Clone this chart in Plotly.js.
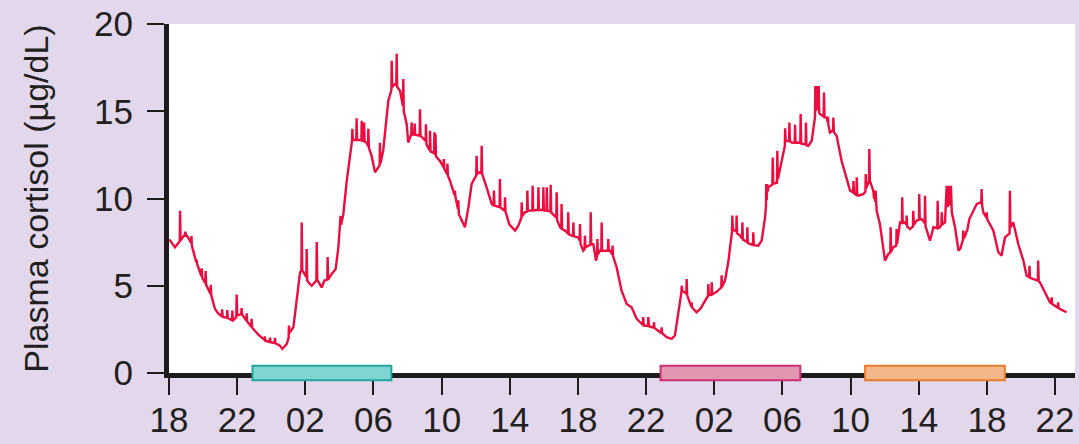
<!DOCTYPE html>
<html>
<head>
<meta charset="utf-8">
<script src="https://cdn.plot.ly/plotly-3.0.1.min.js"></script>
<style>
  html, body { margin: 0; padding: 0; background: #e3d7ec; }
  #chart { width: 1079px; height: 444px; }
</style>
</head>
<body>
<div id="chart"></div>
<script>
// Hours elapsed since 18:00 on day 1
const hours = [
  0.00,0.06,0.35,0.55,0.63,0.65,0.68,0.94,0.96,1.00,1.13,1.30,1.32,1.34,1.60,1.62,1.65,1.90,1.92,1.95,
  2.13,2.15,2.18,2.43,2.45,2.48,2.70,2.90,3.10,3.12,3.15,3.40,3.42,3.45,3.70,3.72,3.75,3.95,3.97,4.00,
  4.24,4.26,4.29,4.54,4.56,4.59,4.83,4.85,4.88,5.24,5.60,5.62,5.65,5.90,5.93,5.96,6.20,6.22,6.25,6.51,
  6.65,6.91,7.02,7.04,7.07,7.30,7.49,7.69,7.77,7.79,7.82,8.06,8.08,8.11,8.18,8.37,8.65,8.67,8.70,8.96,
  9.12,9.29,9.31,9.34,9.55,9.78,9.94,10.04,10.07,10.10,10.23,10.43,10.72,10.74,10.76,10.79,10.99,11.01,11.04,11.29,
  11.31,11.34,11.43,11.45,11.48,11.60,11.68,11.70,11.73,11.89,12.09,12.23,12.36,12.38,12.41,12.57,12.87,13.05,13.07,13.10,
  13.24,13.34,13.36,13.39,13.56,13.73,13.75,13.78,13.95,14.04,14.15,14.22,14.24,14.27,14.40,14.42,14.45,14.71,14.73,14.76,
  15.06,15.08,15.11,15.30,15.32,15.35,15.55,15.58,15.61,15.64,15.67,15.90,16.11,16.13,16.16,16.32,16.34,16.37,16.49,16.76,
  16.78,16.81,16.96,16.98,17.01,17.37,17.57,17.76,17.96,18.03,18.05,18.08,18.20,18.33,18.35,18.38,18.64,18.94,19.05,19.07,
  19.10,19.33,19.40,19.42,19.45,19.70,19.72,19.75,19.98,20.31,20.50,20.68,20.70,20.73,20.89,21.01,21.03,21.06,21.19,21.32,
  21.34,21.37,21.58,21.66,21.68,21.71,21.95,21.97,22.00,22.15,22.17,22.20,22.38,22.40,22.43,22.65,22.73,22.75,22.78,22.95,
  23.02,23.04,23.07,23.24,23.41,23.43,23.46,23.63,23.71,23.73,23.76,24.02,24.10,24.12,24.15,24.31,24.39,24.41,24.44,24.61,
  24.73,24.75,24.78,24.90,25.06,25.12,25.14,25.17,25.29,25.37,25.39,25.42,25.59,25.76,25.78,25.81,25.88,26.01,26.03,26.06,
  26.27,26.56,26.86,27.15,27.45,27.74,27.81,27.83,27.86,28.11,28.13,28.16,28.42,28.44,28.46,28.49,28.81,28.89,28.91,28.94,
  29.20,29.50,29.69,29.89,30.07,30.09,30.12,30.36,30.38,30.41,30.65,30.67,30.70,30.96,31.20,31.56,31.63,31.65,31.68,31.83,
  31.85,31.88,32.04,32.14,32.41,32.43,32.46,32.63,32.83,33.02,33.04,33.06,33.09,33.22,33.29,33.31,33.34,33.51,33.63,33.65,
  33.68,33.80,33.92,33.94,33.97,34.10,34.27,34.29,34.32,34.58,34.78,34.98,35.03,35.05,35.08,35.11,35.14,35.17,35.41,35.43,
  35.46,35.68,35.70,35.73,35.97,36.14,36.16,36.19,36.35,36.39,36.41,36.44,36.55,36.72,36.74,36.77,36.94,37.05,37.07,37.10,
  37.23,37.36,37.38,37.41,37.52,37.72,37.91,37.93,37.98,38.03,38.08,38.13,38.16,38.21,38.42,38.44,38.47,38.60,38.65,38.67,
  38.70,38.79,38.97,38.99,39.02,39.18,39.47,39.77,39.97,40.15,40.17,40.20,40.34,40.36,40.39,40.46,40.76,40.87,40.89,40.92,
  41.08,41.10,41.13,41.33,41.38,41.40,41.45,41.47,41.50,41.53,41.72,42.02,42.21,42.33,42.35,42.38,42.50,42.68,42.70,42.73,
  42.90,43.01,43.03,43.06,43.19,43.27,43.29,43.32,43.49,43.66,43.68,43.71,43.88,44.01,44.03,44.06,44.17,44.35,44.37,44.40,
  44.66,44.86,45.09,45.11,45.14,45.25,45.33,45.35,45.38,45.54,45.64,45.70,45.76,45.82,45.89,45.94,46.13,46.33,46.43,46.59,
  46.61,46.64,46.78,46.80,46.83,46.97,47.40,47.67,47.69,47.72,47.79,47.97,47.99,48.02,48.38,48.67,48.86,49.06,49.33,49.35,
  49.38,49.55,49.84,50.14,50.33,50.48,50.50,50.53,50.72,50.99,51.01,51.04,51.11,51.41,51.70,51.78,51.80,51.83,52.10,52.16,
  52.18,52.21,52.39,52.68
];

// Plasma cortisol (µg/dL)
const cortisol = [
  7.60,7.60,7.20,7.50,7.55,9.30,7.60,7.95,8.10,7.90,7.75,7.45,7.85,7.30,6.35,6.50,6.25,5.55,6.00,5.45,
  5.15,5.85,5.05,4.55,5.05,4.45,3.67,3.40,3.25,3.65,3.22,3.17,3.60,3.15,3.02,3.58,3.00,3.20,4.50,3.30,
  3.38,3.72,3.35,3.00,3.42,2.95,2.65,3.10,2.60,2.20,1.90,2.10,1.85,1.78,2.02,1.76,1.72,2.02,1.70,1.57,
  1.38,1.67,2.00,2.72,2.30,2.62,4.34,5.77,5.85,8.63,5.90,5.50,7.10,5.30,5.20,5.00,5.30,7.50,5.35,4.90,
  5.30,5.35,6.65,5.35,5.68,5.96,7.20,8.30,9.00,8.50,9.10,11.00,13.30,13.30,14.00,13.35,13.35,14.60,13.35,13.35,
  14.45,13.30,13.30,14.35,13.25,13.20,13.00,14.00,12.90,12.45,11.50,11.70,11.90,13.20,12.00,12.74,15.60,16.20,17.90,16.40,
  16.55,16.50,18.30,16.40,16.17,15.30,16.84,15.00,14.26,13.21,13.60,13.70,14.36,13.65,13.70,14.30,13.65,13.60,15.12,13.59,
  13.30,14.26,13.10,12.75,13.88,12.70,12.60,13.80,12.50,13.70,12.40,12.16,11.80,12.26,11.69,11.40,12.00,11.30,11.02,10.20,
  10.45,10.10,9.40,9.90,9.10,8.35,9.49,10.83,11.21,11.30,12.45,11.40,11.50,11.45,13.02,11.40,10.64,9.68,9.60,10.45,
  9.59,9.49,9.50,11.11,9.49,9.30,10.07,9.25,8.50,8.16,8.44,8.90,9.78,9.00,9.21,9.25,10.45,9.30,9.30,9.32,
  10.73,9.32,9.34,9.34,10.64,9.34,9.34,10.64,9.32,9.30,10.64,9.30,9.26,10.79,9.20,9.02,8.90,10.35,8.75,8.35,
  8.30,9.68,8.25,8.16,8.00,9.21,7.95,7.87,7.85,8.63,7.83,7.77,7.60,8.54,7.40,7.01,7.10,7.87,7.20,7.30,
  7.35,9.21,7.40,7.39,6.44,6.70,7.68,6.80,7.01,7.01,8.63,7.01,7.01,7.01,7.68,7.01,7.01,6.80,7.30,6.70,
  6.06,4.72,3.96,3.77,3.10,2.81,2.75,3.20,2.72,2.70,3.20,2.68,2.62,2.60,2.91,2.58,2.34,2.30,2.62,2.28,
  2.05,1.96,2.15,3.39,4.60,5.00,4.72,4.55,5.39,4.45,3.80,4.05,3.75,3.48,3.70,4.30,4.40,5.10,4.45,4.50,
  5.20,4.50,4.60,4.65,4.90,5.60,4.95,5.30,6.40,7.97,8.10,9.02,8.20,8.16,8.10,9.02,8.00,7.87,7.70,8.63,
  7.65,7.58,7.50,8.35,7.45,7.39,7.35,8.06,7.33,7.30,7.58,8.92,9.50,10.83,9.90,10.83,10.40,10.64,10.80,12.35,
  10.85,10.90,12.73,11.10,12.16,13.00,14.03,13.30,13.31,13.30,14.36,13.28,13.21,13.20,14.22,13.20,13.21,13.20,14.84,13.15,
  13.12,13.10,14.36,13.05,13.02,13.31,14.64,16.45,15.00,16.45,15.10,16.45,14.90,14.84,14.70,16.07,14.65,14.64,14.40,14.70,
  14.20,13.78,13.90,14.64,13.80,13.59,12.16,11.21,10.45,10.35,11.00,10.30,10.20,11.21,10.18,10.16,10.26,10.40,11.40,10.60,
  11.00,12.83,11.02,10.45,10.00,10.45,9.80,10.45,9.40,9.30,8.54,6.44,6.82,6.90,8.35,6.95,7.20,7.30,8.25,7.40,
  8.63,8.60,10.07,8.60,8.63,8.50,9.02,8.40,8.25,8.40,9.30,8.50,8.73,8.80,10.26,8.80,8.82,8.60,10.16,8.40,
  7.58,8.35,8.30,9.87,8.30,8.35,8.50,9.21,8.50,8.63,10.73,9.50,10.73,9.60,10.73,9.21,8.35,7.01,7.11,7.60,
  8.16,7.70,8.00,8.16,8.10,8.82,9.68,9.80,10.54,9.60,9.21,8.90,9.21,8.80,8.16,6.92,6.73,7.77,8.00,10.45,
  8.35,8.63,7.39,6.44,5.58,5.50,6.15,5.45,5.39,5.30,6.44,5.25,5.20,4.63,4.05,4.00,4.34,3.95,3.77,3.75,
  4.05,3.72,3.62,3.48
];

// Tick positions (hours since 18:00) and clock labels
const tickHours = [0, 4, 8, 12, 16, 20, 24, 28, 32, 36, 40, 44, 48, 52];
const tickLabels = ['18', '22', '02', '06', '10', '14', '18', '22', '02', '06', '10', '14', '18', '22'];
const yTicks = [0, 5, 10, 15, 20];

// Shaded periods on the time axis (start, end in hours since 18:00)
const periodStart = [4.9, 28.85, 40.85];
const periodEnd = [13.05, 37.05, 49.05];
const periodFill = ['#80d4d2', '#e296b2', '#f4b78a'];
const periodEdge = ['#1fa6a2', '#cc2f72', '#e67e2e'];

const textColor = '#231f20';
const font = "'Liberation Sans', Arial, sans-serif";

const shapes = periodStart.map((s, i) => ({
  type: 'rect', xref: 'x', yref: 'paper', layer: 'above',
  x0: s, x1: periodEnd[i], y0: -0.021, y1: 0.021,
  fillcolor: periodFill[i],
  line: { color: periodEdge[i], width: 2 }
}));

const trace = {
  x: hours, y: cortisol, type: 'scatter', mode: 'lines',
  line: { color: '#eb0d40', width: 2.4 },
  hoverinfo: 'skip', cliponaxis: false
};

const layout = {
  width: 1079, height: 444,
  paper_bgcolor: '#e3d7ec', plot_bgcolor: '#ffffff',
  margin: { l: 169, r: 4, t: 22, b: 71 },
  showlegend: false,
  font: { family: font, color: textColor, size: 34 },
  xaxis: {
    range: [0, 53.17], tickmode: 'array', tickvals: tickHours, ticktext: tickLabels,
    showline: true, linecolor: '#1d1b1b', linewidth: 5,
    ticks: 'outside', ticklen: 17, tickwidth: 2, tickcolor: '#1d1b1b',
    showgrid: false, zeroline: false, fixedrange: true,
    tickfont: { family: font, size: 35, color: textColor },
    ticklabelstandoff: -5
  },
  yaxis: {
    range: [0, 20], tickmode: 'array', tickvals: yTicks,
    showline: true, linecolor: '#1d1b1b', linewidth: 5,
    ticks: 'outside', ticklen: 17, tickwidth: 2, tickcolor: '#1d1b1b',
    showgrid: false, zeroline: false, fixedrange: true,
    tickfont: { family: font, size: 35, color: textColor },
    ticklabelstandoff: 7,
    automargin: true,
    title: { text: 'Plasma cortisol (µg/dL)', standoff: 37,
             font: { family: font, size: 34, color: textColor } }
  },
  shapes: shapes
};

Plotly.newPlot('chart', [trace], layout, { staticPlot: true, displayModeBar: false });
</script>
</body>
</html>
